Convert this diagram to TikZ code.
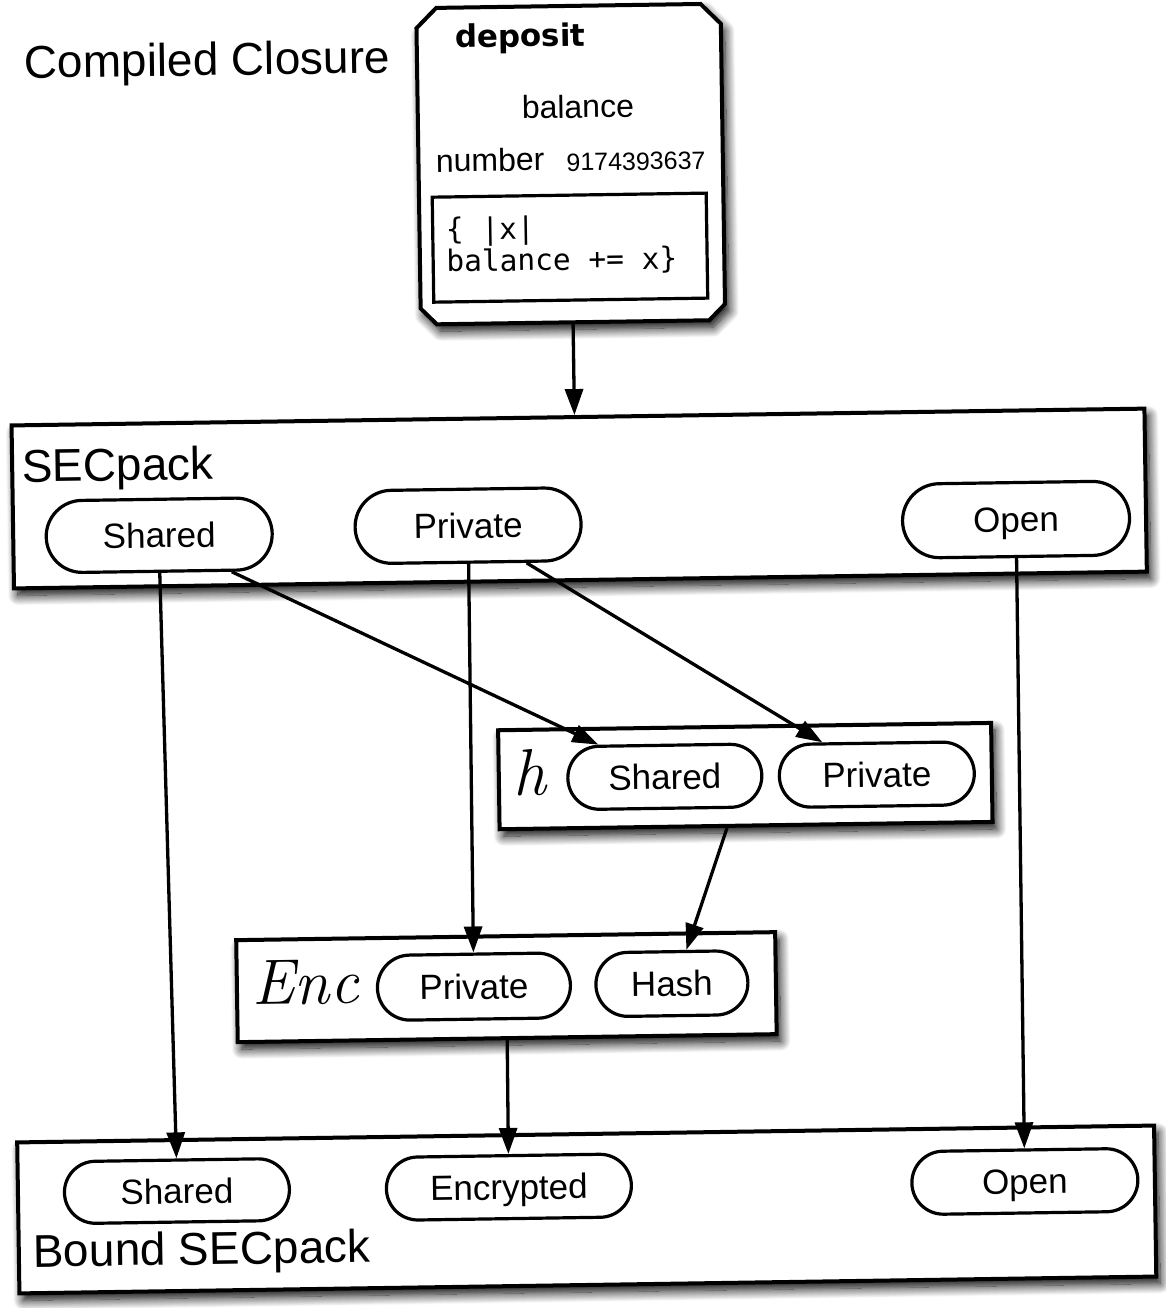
\documentclass[tikz,border=0pt]{standalone}
\usepackage{fontspec}
\setmainfont{Liberation Sans}
\newfontfamily\codefont{DejaVu Sans Mono}
\newfontfamily\depfont{DejaVu Sans}
\newfontfamily\lmr{Latin Modern Roman}
\usetikzlibrary{arrows.meta,shapes.misc,shadows.blur,calc}
\tikzset{
  shad/.style={blur shadow={shadow xshift=4pt,shadow yshift=-7pt,shadow blur radius=10pt,shadow blur steps=12,shadow opacity=100}},
  box/.style={draw, line width=4pt, fill=white, inner sep=0pt, shad},
  pill/.style={draw, line width=3.2pt, fill=white, rounded rectangle, inner sep=0pt,
    font=\fontsize{35}{35}\selectfont, text height=25pt, text depth=0pt},
  conn/.style={line width=3.3pt, draw=black, fill=black, draw opacity=1, fill opacity=1,
    -{Triangle[length=26pt,width=18pt,fill=black]}},
  lbl/.style={inner sep=0pt, anchor=base west, font=\fontsize{46}{46}\selectfont},
  txt/.style={inner sep=0pt, font=\fontsize{32}{32}\selectfont}
}
\begin{document}
\begin{tikzpicture}[x=1pt,y=1pt]
\useasboundingbox (0,0) rectangle (1165,-1308);
\begin{scope}[rotate around={0.85:(582,-654)}, transform shape]
% title
\node[lbl] (title) at (33,-70) {Compiled Closure};
% compiled closure box
\node[minimum width=304pt, minimum height=316pt, inner sep=0pt] (closure) at (578,-164) {};
\draw[line width=4pt, fill=white, shad]
  ($(closure.north west)+(0,-20)$) -- ($(closure.north west)+(20,0)$) --
  ($(closure.north east)+(-20,0)$) -- ($(closure.north east)+(0,-20)$) --
  ($(closure.south east)+(0,16)$) -- ($(closure.south east)+(-16,0)$) --
  ($(closure.south west)+(16,0)$) -- ($(closure.south west)+(0,16)$) -- cycle;
\node[inner sep=0pt, anchor=base west, font=\depfont\bfseries\fontsize{31}{31}\selectfont] (dep) at (464,-46) {deposit};
\node[txt, anchor=base] (bal) at (586,-118) {balance};
\node[txt, anchor=base west] (num) at (443,-170) {number};
\node[inner sep=0pt, anchor=base east, font=\fontsize{25}{25}\selectfont] (numval) at (713,-171) {9174393637};
\node[draw, line width=3.2pt, minimum width=274pt, minimum height=105pt, inner sep=0pt] (code) at (576,-247.5) {};
\node[inner sep=0pt, anchor=base west, font=\codefont\fontsize{29.5}{30}\selectfont] (code1) at (452,-238) {\{ |x|};
\node[inner sep=0pt, anchor=base west, font=\codefont\fontsize{29.5}{30}\selectfont] (code2) at (452,-270) {balance += x\}};

% SECpack
\node[box, minimum width=1133pt, minimum height=163pt] (secpack) at (581.5,-498.5) {};
\node[lbl] (seclbl) at (24.5,-474) {SECpack};
\node[pill, minimum width=226pt, minimum height=72pt] (sShared) at (161,-529) {Shared};
\node[pill, minimum width=226pt, minimum height=73pt] (sPrivate) at (470,-524) {Private};
\node[pill, minimum width=227pt, minimum height=74pt] (sOpen) at (1018,-526) {Open};

% h box
\node[box, minimum width=493pt, minimum height=99pt] (hbox) at (743.5,-778.5) {};
\node[inner sep=0pt, anchor=base west, font=\lmr\itshape\fontsize{66}{66}\selectfont] (hlbl) at (511,-794) {h};
\node[pill, minimum width=194pt, minimum height=63pt] (hShared) at (663,-778) {Shared};
\node[pill, minimum width=195pt, minimum height=63pt] (hPrivate) at (875,-779) {Private};

% Enc box
\node[box, minimum width=539pt, minimum height=102pt] (encbox) at (501.5,-986) {};
\node[inner sep=0pt, anchor=base west, font=\lmr\itshape\fontsize{64}{64}\selectfont] (enclbl) at (247,-1000) {Enc};
\node[pill, minimum width=193pt, minimum height=65pt] (ePrivate) at (469,-985) {Private};
\node[pill, minimum width=152pt, minimum height=64pt] (eHash) at (667,-985) {Hash};

% Bound SECpack
\node[box, minimum width=1137pt, minimum height=151pt] (bound) at (578.5,-1209.5) {};
\node[pill, minimum width=225pt, minimum height=62pt] (bShared) at (169,-1185) {Shared};
\node[pill, minimum width=245pt, minimum height=63pt] (bEncrypted) at (501,-1186) {Encrypted};
\node[pill, minimum width=226pt, minimum height=63pt] (bOpen) at (1017,-1188) {Open};
\node[lbl] (boundlbl) at (24,-1259) {Bound SECpack};

% connectors
\draw[conn] (closure.south) -- (closure.south |- secpack.north);
\draw[conn] (sShared.south) -- (bShared.north);
\draw[conn] ([xshift=72pt]sShared.south) -- ([xshift=-66pt]hShared.north);
\draw[conn] (sPrivate.south) -- (ePrivate.north);
\draw[conn] ([xshift=58pt]sPrivate.south) -- ([xshift=-54pt]hPrivate.north);
\draw[conn] (sOpen.south) -- (bOpen.north);
\draw[conn] ([xshift=-19pt]hbox.south) -- ([xshift=15pt]eHash.north);
\draw[conn] (encbox.south) -- (bEncrypted.north);
\end{scope}
\end{tikzpicture}
\end{document}
